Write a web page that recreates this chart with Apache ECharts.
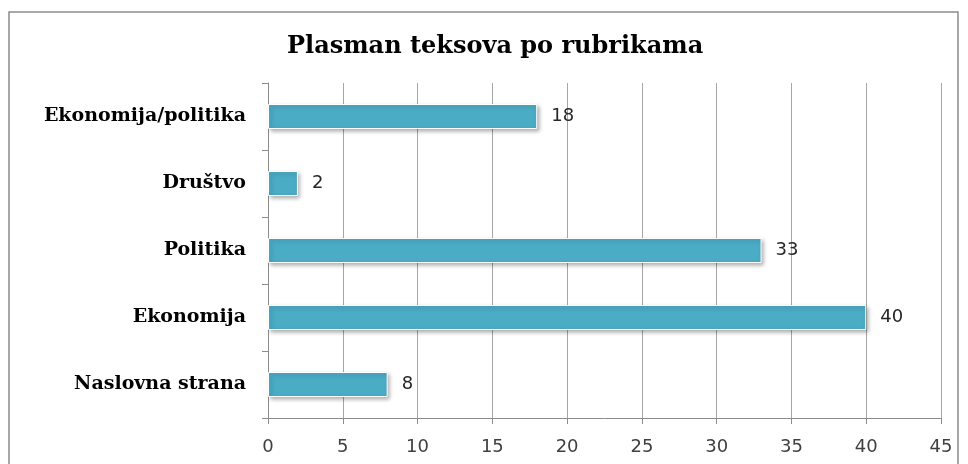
<!DOCTYPE html>
<html>
<head>
<meta charset="utf-8">
<script src="https://cdn.jsdelivr.net/npm/echarts@6/dist/echarts.min.js"></script>
<style>
  html, body { margin: 0; padding: 0; background: #fff; }
  #chart { width: 968px; height: 464px; }
</style>
</head>
<body>
<div id="chart"></div>
<script>
// categories listed bottom to top (category axis starts at the bottom)
const categories = ['Naslovna strana', 'Ekonomija', 'Politika', 'Društvo', 'Ekonomija/politika']
const values = [8, 40, 33, 2, 18]
const xMin = 0
const xMax = 45
const xStep = 5

const myChart = echarts.init(document.getElementById('chart'))
const option = {
  animation: false,
  title: {
    text: 'Plasman teksova po rubrikama',
    left: 282,
    top: 30,
    textStyle: {
      fontFamily: 'DejaVu Serif',
      fontWeight: 'bold',
      fontSize: 24,
      color: '#000',
    },
  },
  graphic: [
    {
      type: 'rect',
      shape: { x: 9, y: 12, width: 949, height: 480 },
      style: { fill: 'none', stroke: '#8c8c8c', lineWidth: 1.5 },
      silent: true,
    },
  ],
  grid: {
    left: 268,
    right: 27,
    top: 83,
    bottom: 46,
  },
  xAxis: {
    type: 'value',
    min: xMin,
    max: xMax,
    interval: xStep,
    axisLine: { show: true, lineStyle: { color: '#8c8c8c', width: 1 } },
    axisTick: { show: true, length: 6, lineStyle: { color: '#8c8c8c' } },
    splitLine: { show: true, lineStyle: { color: '#a6a6a6', width: 1 } },
    axisLabel: {
      margin: 20,
      color: '#404040',
      fontFamily: 'DejaVu Sans',
      fontSize: 18,
    },
  },
  yAxis: {
    type: 'category',
    data: categories,
    axisLine: { show: true, lineStyle: { color: '#8c8c8c', width: 1 } },
    axisTick: { show: true, length: 6, lineStyle: { color: '#8c8c8c' } },
    axisLabel: {
      margin: 22,
      color: '#000',
      fontFamily: 'DejaVu Serif',
      fontWeight: 'bold',
      fontSize: 19,
    },
  },
  series: [
    {
      type: 'bar',
      data: values,
      barWidth: 25,
      itemStyle: {
        color: '#4bacc6',
        borderColor: '#ffffff',
        borderWidth: 1,
        shadowColor: 'rgba(0,0,0,0.3)',
        shadowBlur: 4,
        shadowOffsetX: 2,
        shadowOffsetY: 2,
      },
      label: {
        show: true,
        position: 'right',
        distance: 14,
        color: '#262626',
        fontFamily: 'DejaVu Sans',
        fontSize: 18,
      },
    },
  ],
}
option && myChart.setOption(option)
</script>
</body>
</html>
